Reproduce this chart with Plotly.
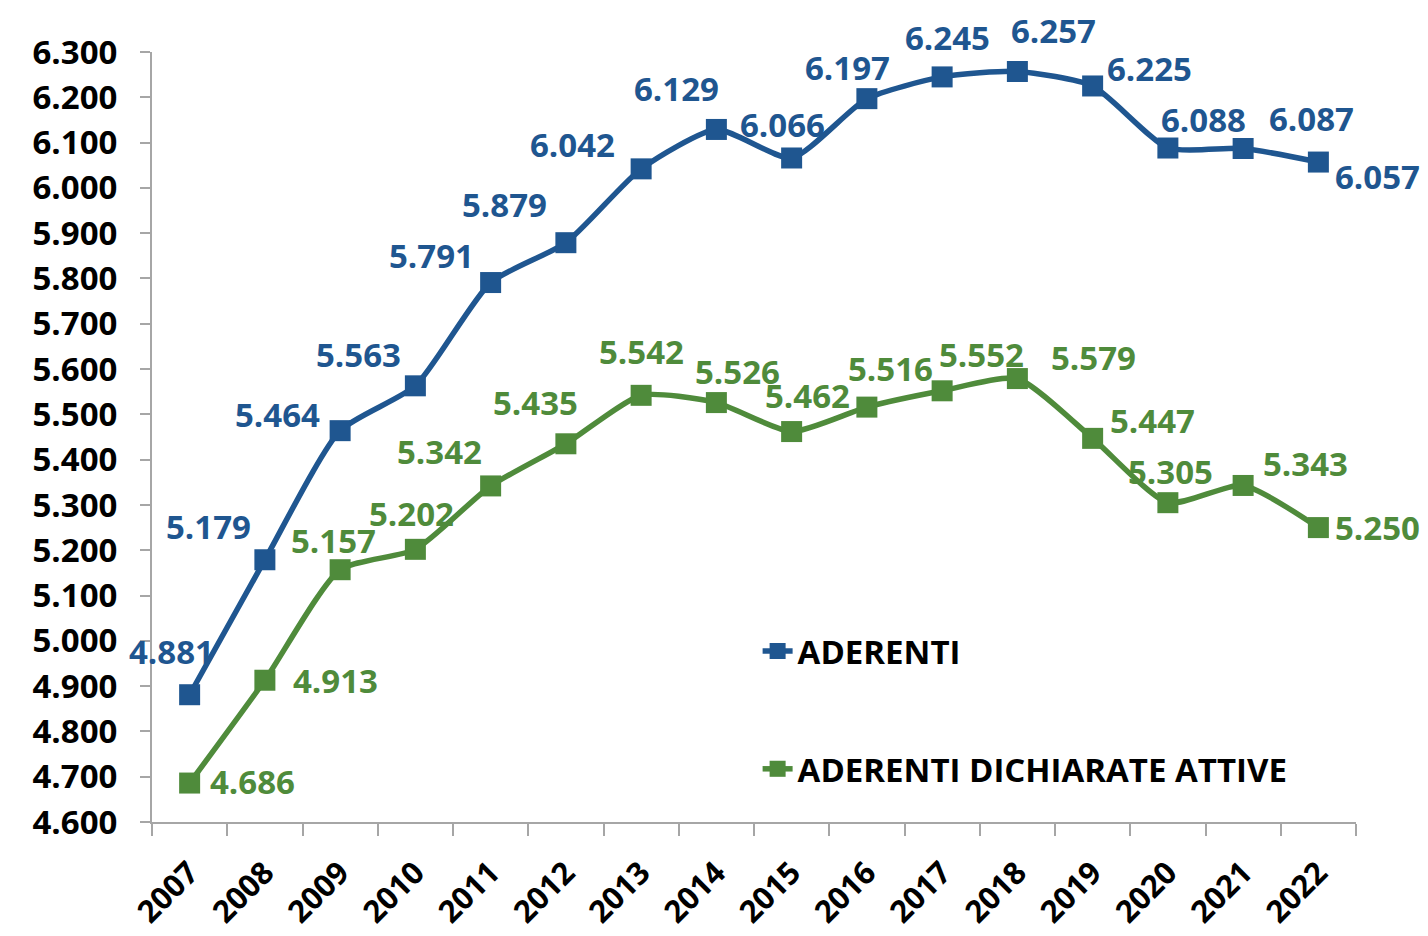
import plotly.graph_objects as go

years = [str(y) for y in range(2007, 2023)]
aderenti = [4881, 5179, 5464, 5563, 5791, 5879, 6042, 6129, 6066, 6197, 6245, 6257, 6225, 6088, 6087, 6057]
attive = [4686, 4913, 5157, 5202, 5342, 5435, 5542, 5526, 5462, 5516, 5552, 5579, 5447, 5305, 5343, 5250]
y_ticks = list(range(4600, 6301, 100))

BLUE = "#1f5690"
GREEN = "#4f8b3b"
FONT = "Open Sans"

# label offsets (pixels) relative to each point
blue_off = [(-18, 43), (-56, 33), (-63, 16), (-57, 31), (-59, 27), (-61, 38), (-69, 24), (-40, 41),
            (-9, 33), (-19, 31), (5, 39), (36, 41), (57, 17), (36, 29), (68, 30), (59, -14)]
green_off = [(63, 2), (71, 0), (-7, 29), (-4, 36), (-51, 34), (-30, 41), (0, 44), (21, 31),
             (16, 36), (24, 39), (39, 36), (76, 21), (60, 18), (3, 31), (62, 22), (59, 0)]


def fmt(v):
    return f"{v:,}".replace(",", ".")


fig = go.Figure()
fig.add_trace(go.Scatter(
    x=years, y=aderenti, name="ADERENTI", mode="lines+markers",
    line=dict(color=BLUE, width=5.5, shape="spline", smoothing=0.6),
    marker=dict(symbol="square", size=21, color=BLUE),
    legendgroup="a",
))
fig.add_trace(go.Scatter(
    x=years, y=attive, name="ADERENTI DICHIARATE ATTIVE", mode="lines+markers",
    line=dict(color=GREEN, width=5.5, shape="spline", smoothing=0.6),
    marker=dict(symbol="square", size=21, color=GREEN),
    legendgroup="b",
))

annotations = []
for series, offs, col in [(aderenti, blue_off, BLUE), (attive, green_off, GREEN)]:
    for i, (v, (dx, dy)) in enumerate(zip(series, offs)):
        annotations.append(dict(
            x=i, y=v, xref="x", yref="y", text=fmt(v), showarrow=False,
            xshift=dx, yshift=dy,
            font=dict(family=FONT, size=33, color=col, weight="bold"),
        ))

# page body adds an 8px margin, so the figure is 8px smaller and margins shifted
fig.update_layout(
    width=1420, height=928,
    margin=dict(l=144, r=72, t=44, b=114),
    paper_bgcolor="white", plot_bgcolor="white",
    separators=",.",
    annotations=annotations,
    showlegend=True,
    legend=dict(
        x=0.503, y=0.2585, xanchor="left", yanchor="top",
        font=dict(family=FONT, size=33, color="black", weight="bold"),
        bgcolor="rgba(0,0,0,0)", tracegroupgap=72, itemwidth=30,
    ),
)
fig.update_xaxes(
    type="category", range=[-0.5, 15.5], showgrid=False, showline=True, linecolor="#a6a6a6", linewidth=2,
    ticks="outside", tickson="boundaries", ticklen=12, tickcolor="#a6a6a6", tickwidth=2,
    ticklabelstandoff=18, automargin=False,
    tickangle=-45, tickfont=dict(family=FONT, size=31, color="black", weight="bold"),
)
fig.update_yaxes(
    range=[4600, 6300], tickvals=y_ticks, tickformat=",d",
    showgrid=False, showline=True, linecolor="#a6a6a6", linewidth=2,
    ticks="outside", ticklen=10, tickcolor="#a6a6a6", tickwidth=2, ticklabelstandoff=16,
    automargin=False,
    tickfont=dict(family=FONT, size=33, color="black", weight="bold"),
    zeroline=False,
)

fig.write_html("out.html")
